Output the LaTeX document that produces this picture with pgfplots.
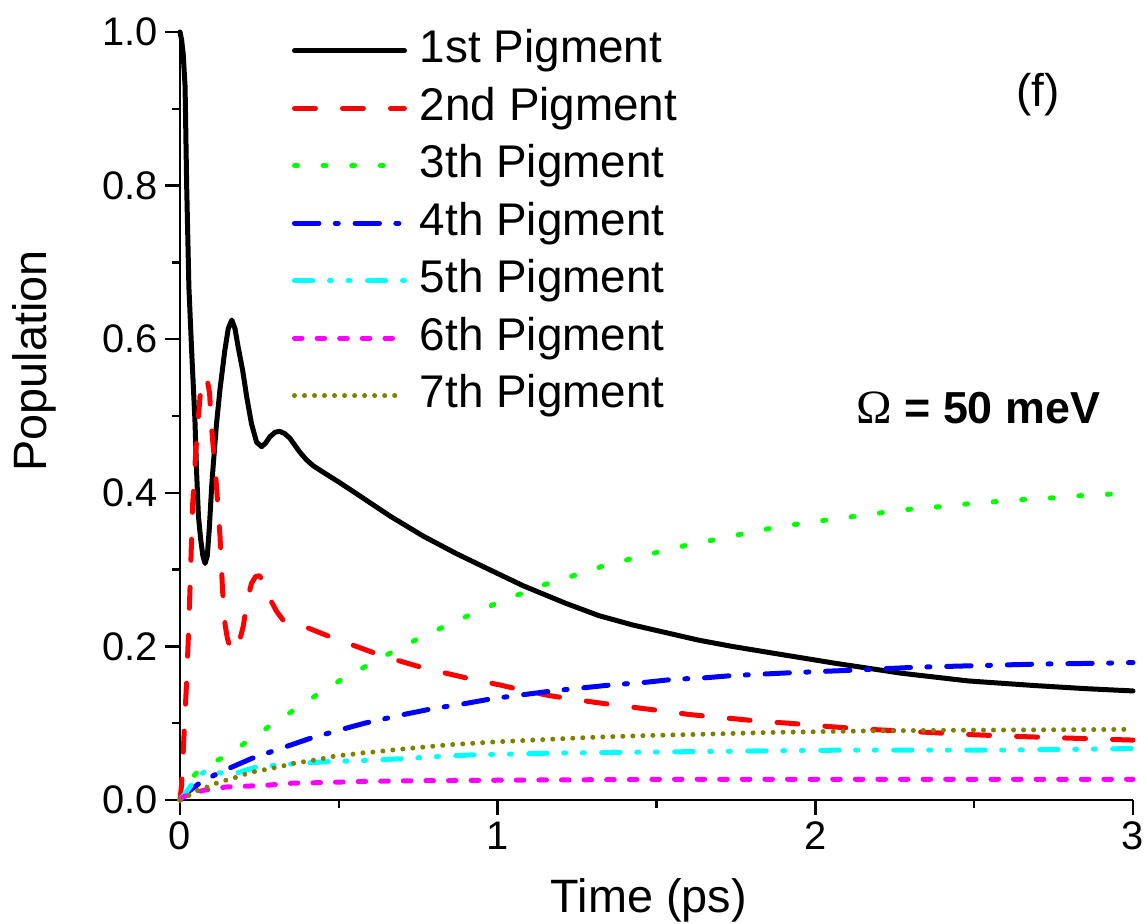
\documentclass[border=0pt]{standalone}
\usepackage{fontspec}
\setmainfont{Liberation Sans}
\newfontfamily\serifomega{Liberation Serif}
\usepackage{pgfplots}
\pgfplotsset{compat=1.18}
\usetikzlibrary{calc}
\definecolor{cRed}{RGB}{255,0,0}
\definecolor{cGreen}{RGB}{0,255,0}
\definecolor{cBlue}{RGB}{0,0,255}
\definecolor{cCyan}{RGB}{0,255,255}
\definecolor{cMag}{RGB}{255,0,255}
\definecolor{cOlive}{RGB}{128,128,0}
\begin{document}
\begin{tikzpicture}
\begin{axis}[
  scale only axis, width=476.5bp, height=384bp,
  xmin=0, xmax=3, ymin=0, ymax=1,
  axis x line*=bottom, axis y line*=left,
  axis line style={line width=1.3bp},
  every tick/.style={line width=1.2bp, black},
  tick align=outside,
  major tick length=7.5bp, minor tick length=4bp,
  xtick={0,1,2,3}, minor xtick={0.5,1.5,2.5},
  ytick={0,0.2,0.4,0.6,0.8,1.0}, minor ytick={0.1,0.3,0.5,0.7,0.9},
  /pgf/number format/assume math mode=true,
  yticklabel style={/pgf/number format/.cd, fixed, fixed zerofill, precision=1},
  xticklabel style={/pgf/number format/.cd, fixed, precision=0},
  tick label style={font=\fontsize{20}{24}\selectfont},
  xlabel={Time (ps)}, ylabel={Population},
  label style={font=\fontsize{23.5}{28}\selectfont},
  xlabel style={at={(axis description cs:0.492,-0.147)}, anchor=base},
  ylabel style={at={(axis description cs:-0.1406,0.572)}, anchor=base, rotate=0},
  clip=false,
  legend style={at={(axis description cs:0.1175,1.013)}, anchor=north west,
    draw=none, fill=none, inner sep=0pt, outer sep=0pt, row sep=0pt,
    font=\fontsize{23}{27}\selectfont,
    nodes={text height=17bp, text depth=5bp, inner ysep=3.375bp, inner xsep=6.5bp}},
  legend cell align=left,
  legend image code/.code={\draw[#1] (0bp,0bp) -- (55bp,0bp);},
  every axis plot/.append style={line width=2.5bp, line cap=round, line join=round},
]
\addplot[black] coordinates {
(0,1.0) (0.005,0.99) (0.01,0.972) (0.016,0.929) (0.021,0.80) (0.028,0.668)
(0.037,0.582) (0.047,0.495) (0.052,0.43) (0.058,0.37) (0.065,0.34) (0.072,0.318) (0.079,0.308)
(0.086,0.318) (0.092,0.352) (0.1,0.41) (0.105,0.438) (0.115,0.49) (0.126,0.535)
(0.141,0.585) (0.152,0.614) (0.163,0.625) (0.173,0.614) (0.183,0.59) (0.197,0.56) (0.21,0.525)
(0.225,0.49) (0.241,0.466) (0.257,0.46) (0.27,0.465) (0.283,0.473) (0.3,0.479) (0.314,0.48)
(0.33,0.477) (0.346,0.471) (0.377,0.453) (0.398,0.443) (0.42,0.435) (0.45,0.427)
(0.5,0.414) (0.555,0.399) (0.66,0.37) (0.764,0.344) (0.869,0.321) (0.974,0.300)
(1.08,0.279) (1.215,0.256) (1.319,0.240) (1.424,0.228) (1.529,0.218) (1.634,0.208) (1.738,0.200)
(1.87,0.191) (2.063,0.178) (2.272,0.165) (2.482,0.155) (2.691,0.149) (2.85,0.145) (3.0,0.142)
};
\addlegendentry{1st Pigment}
\addplot[cRed, dash pattern=on 10.5bp off 13.5bp] coordinates {
(0,0) (0.005,0.02) (0.01,0.061) (0.021,0.156) (0.028,0.23) (0.034,0.308) (0.04,0.386)
(0.05,0.456) (0.063,0.525) (0.075,0.548) (0.084,0.551) (0.093,0.53) (0.1,0.482)
(0.115,0.408) (0.126,0.343) (0.134,0.273) (0.142,0.228) (0.149,0.211) (0.158,0.198) (0.168,0.193)
(0.176,0.195) (0.183,0.2) (0.199,0.226) (0.212,0.26) (0.225,0.282) (0.238,0.291) (0.25,0.292)
(0.262,0.285) (0.283,0.262) (0.305,0.245) (0.325,0.234) (0.36,0.229) (0.403,0.224)
(0.476,0.212) (0.555,0.2) (0.628,0.189) (0.70,0.18) (0.775,0.171) (0.859,0.163)
(0.932,0.156) (1.005,0.15) (1.078,0.143) (1.162,0.136) (1.225,0.132) (1.309,0.127)
(1.382,0.123) (1.46,0.119) (1.61,0.111) (1.765,0.105) (1.838,0.102) (1.916,0.1)
(2.063,0.095) (2.167,0.092) (2.314,0.089) (2.466,0.0855) (2.617,0.083) (2.92,0.079) (3.0,0.078)
};
\addlegendentry{2nd Pigment}
\addplot[cGreen, dash pattern=on 1.5bp off 12.8bp] coordinates {
(0,0) (0.02,0.015) (0.04,0.03) (0.068,0.042) (0.11,0.05) (0.157,0.06) (0.2,0.073) (0.249,0.087)
(0.337,0.111) (0.424,0.135) (0.513,0.158) (0.607,0.179) (0.70,0.2) (0.791,0.218)
(0.88,0.235) (0.972,0.252) (1.063,0.267) (1.152,0.281) (1.246,0.293) (1.335,0.305)
(1.429,0.315) (1.518,0.324) (1.607,0.333) (1.698,0.34) (1.788,0.348) (1.876,0.355)
(1.97,0.361) (2.1,0.368) (2.19,0.373) (2.28,0.378) (2.37,0.381) (2.463,0.385)
(2.553,0.388) (2.644,0.391) (2.735,0.393) (2.826,0.396) (2.916,0.398) (3.0,0.40)
};
\addlegendentry{3th Pigment}
\addplot[cBlue, dash pattern=on 12.2bp off 8.2bp on 1.5bp off 8.4bp] coordinates {
(0,0) (0.03,0.012) (0.068,0.024) (0.131,0.037) (0.225,0.054) (0.323,0.068) (0.408,0.08)
(0.51,0.092) (0.581,0.1) (0.70,0.111) (0.796,0.119) (0.89,0.125) (0.984,0.132)
(1.078,0.137) (1.173,0.142) (1.267,0.146) (1.361,0.15) (1.46,0.153) (1.55,0.157)
(1.649,0.159) (1.738,0.162) (1.838,0.164) (1.937,0.166) (2.115,0.169) (2.325,0.173)
(2.513,0.175) (2.702,0.177) (2.89,0.178) (3.0,0.179)
};
\addlegendentry{4th Pigment}
\addplot[cCyan, dash pattern=on 9.2bp off 8.3bp on 1bp off 8.3bp on 1bp off 8.7bp] coordinates {
(0,0) (0.015,0.008) (0.031,0.017) (0.06,0.031) (0.08,0.038) (0.094,0.04) (0.12,0.036)
(0.157,0.032) (0.2,0.038) (0.241,0.043) (0.325,0.046) (0.382,0.048) (0.471,0.05)
(0.555,0.051) (0.712,0.054) (0.785,0.056) (0.932,0.059) (1.073,0.06) (1.162,0.061)
(1.387,0.062) (1.623,0.063) (1.848,0.064) (2.105,0.065) (2.356,0.065) (2.587,0.065)
(2.812,0.066) (3.0,0.067)
};
\addlegendentry{5th Pigment}
\addplot[cMag, dash pattern=on 3.8bp off 7.5bp] coordinates {
(0,0) (0.01,0.004) (0.04,0.009) (0.079,0.013) (0.147,0.017) (0.21,0.018) (0.283,0.0195)
(0.356,0.022) (0.429,0.0225) (0.56,0.024) (0.70,0.025) (1.11,0.026) (1.58,0.027)
(2.2,0.027) (3.0,0.027)
};
\addlegendentry{6th Pigment}
\addplot[cOlive, dash pattern=on 0.01bp off 5bp] coordinates {
(0,0) (0.031,0.0065) (0.063,0.014) (0.094,0.018) (0.126,0.024) (0.157,0.027) (0.188,0.031)
(0.22,0.036) (0.251,0.038) (0.283,0.041) (0.314,0.043) (0.346,0.047) (0.377,0.049)
(0.408,0.051) (0.44,0.053) (0.471,0.056) (0.503,0.058) (0.534,0.059) (0.565,0.061)
(0.597,0.062) (0.691,0.066) (0.848,0.072) (1.005,0.076) (1.162,0.079) (1.319,0.082)
(1.476,0.084) (1.634,0.0855) (1.864,0.088) (2.167,0.09) (2.48,0.091) (2.796,0.0915) (3.0,0.092)
};
\addlegendentry{7th Pigment}
\node[font=\fontsize{23}{27}\selectfont] at (axis cs:2.70,0.918) {(f)};
\node[font=\fontsize{22.5}{27}\selectfont\bfseries] at (axis cs:2.513,0.51) {{\serifomega\mdseries\fontsize{24}{27}\selectfont Ω} = 50 meV};
\coordinate (O) at (rel axis cs:0,0);
\coordinate (T) at (rel axis cs:1,1);
\end{axis}
\pgfresetboundingbox
\path[use as bounding box] ($(O)+(-90bp,-62bp)$) rectangle ($(T)+(7.5bp,16bp)$);
\end{tikzpicture}
\end{document}
